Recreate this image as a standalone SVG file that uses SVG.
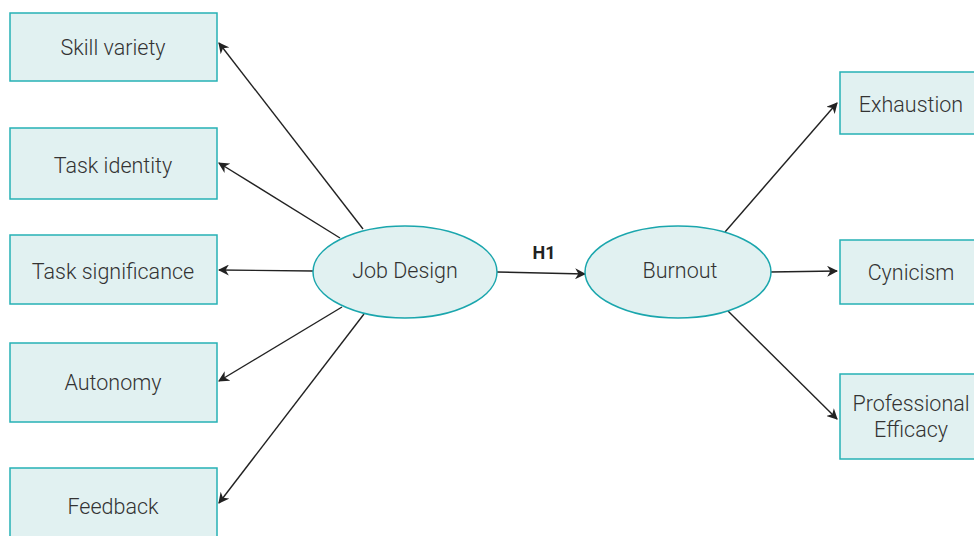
<svg xmlns="http://www.w3.org/2000/svg" width="974" height="536" viewBox="0 0 974 536">
  <style>
    .box { fill: #e1f1f1; stroke: #26b1b5; stroke-width: 1.5; }
    .oval { fill: #e1f1f1; stroke: #1aa6ad; stroke-width: 1.5; }
    .lbl { font-family: Roboto, "Liberation Sans", sans-serif; font-weight: 300; font-size: 21.5px; fill: #333; text-anchor: middle; dominant-baseline: central; }
    .edge { stroke: #222; stroke-width: 1.4; fill: none; marker-end: url(#arrow); }
    .h { font-family: Roboto, "Liberation Sans", sans-serif; font-weight: 700; font-size: 18px; fill: #222; text-anchor: middle; }
  </style>
  <defs>
    <marker id="arrow" viewBox="0 0 10 10" refX="9" refY="5" markerWidth="11" markerHeight="11" markerUnits="userSpaceOnUse" orient="auto">
      <path d="M0,0 L10,5 L0,10 L3,5 Z" fill="#222"/>
    </marker>
  </defs>
  <rect width="974" height="536" fill="#fff"/>

  <g id="connectors">
    <line class="edge" x1="363" y1="229" x2="219" y2="43"/>
    <line class="edge" x1="340" y1="238" x2="219" y2="163"/>
    <line class="edge" x1="313" y1="271" x2="219" y2="270"/>
    <line class="edge" x1="342" y1="307" x2="219" y2="381"/>
    <line class="edge" x1="364" y1="314" x2="219" y2="503"/>
    <line class="edge" x1="497" y1="272" x2="585" y2="274"/>
    <line class="edge" x1="725" y1="232" x2="837" y2="103"/>
    <line class="edge" x1="770" y1="272" x2="837" y2="271"/>
    <line class="edge" x1="728" y1="311" x2="837" y2="419"/>
    <text class="h" x="544" y="259">H1</text>
  </g>

  <g id="skill-variety">
    <rect class="box" x="10" y="13" width="207" height="68"/>
    <text class="lbl" x="113" y="47">Skill variety</text>
  </g>
  <g id="task-identity">
    <rect class="box" x="10" y="128" width="207" height="71"/>
    <text class="lbl" x="113" y="165">Task identity</text>
  </g>
  <g id="task-significance">
    <rect class="box" x="10" y="235" width="207" height="69"/>
    <text class="lbl" x="113" y="271">Task significance</text>
  </g>
  <g id="autonomy">
    <rect class="box" x="10" y="343" width="207" height="79"/>
    <text class="lbl" x="113" y="382">Autonomy</text>
  </g>
  <g id="feedback">
    <rect class="box" x="10" y="468" width="207" height="72"/>
    <text class="lbl" x="113" y="506">Feedback</text>
  </g>

  <g id="job-design">
    <ellipse class="oval" cx="405" cy="272" rx="92" ry="46"/>
    <text class="lbl" x="405" y="270">Job Design</text>
  </g>
  <g id="burnout">
    <ellipse class="oval" cx="678" cy="272" rx="93" ry="46"/>
    <text class="lbl" x="680" y="270">Burnout</text>
  </g>

  <g id="exhaustion">
    <rect class="box" x="840" y="72" width="140" height="62"/>
    <text class="lbl" x="911" y="104">Exhaustion</text>
  </g>
  <g id="cynicism">
    <rect class="box" x="840" y="240" width="140" height="64"/>
    <text class="lbl" x="911" y="272">Cynicism</text>
  </g>
  <g id="professional-efficacy">
    <rect class="box" x="840" y="374" width="140" height="85"/>
    <text class="lbl" x="911" y="403">Professional</text>
    <text class="lbl" x="911" y="429">Efficacy</text>
  </g>
</svg>
